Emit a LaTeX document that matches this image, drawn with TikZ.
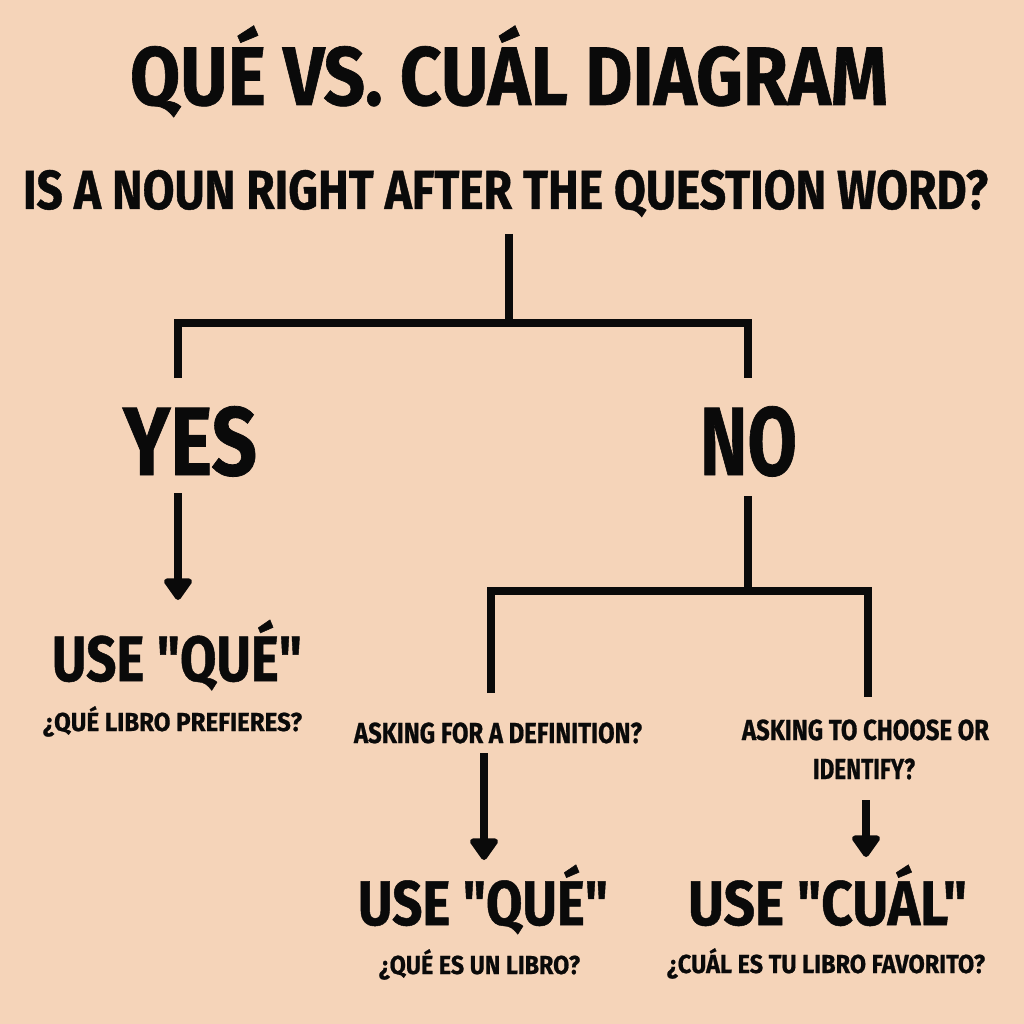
\documentclass[tikz,border=0pt]{standalone}
\usepackage{fontspec}
\usepackage{graphicx}
\setmainfont{Fira Sans}[Ligatures=TeXOff, BoldFeatures={FakeBold=0.8}]
\usetikzlibrary{arrows.meta}
\definecolor{bgc}{HTML}{F5D4B9}
\definecolor{ink}{HTML}{0A0A0A}
\newcommand\fitw[3]{\resizebox{#1}{\height}{\fontsize{#2}{#2}\selectfont\bfseries #3}}
\tikzset{
  txt/.style={anchor=base, inner sep=0pt, outer sep=0pt, text=ink},
  tree/.style={draw=ink, line width=8pt, line cap=butt, line join=miter},
  arr/.style={draw=ink, line width=8pt, -{Triangle[width=32pt,length=24pt,round]}},
}
\begin{document}
\begin{tikzpicture}[x=1pt,y=-1pt]
\fill[bgc] (0,0) rectangle (1024,1024);
\useasboundingbox (0,0) rectangle (1024,1024);

% texts
\node[txt] (title) at (509,105) {\fitw{758pt}{83}{QUÉ VS. CUÁL DIAGRAM}};
\node[txt] (question) at (505.5,209) {\fitw{965pt}{55}{IS A NOUN RIGHT AFTER THE QUESTION WORD?}};
\node[txt] (yes) at (190,475) {\fitw{134pt}{97}{YES}};
\node[txt] (no) at (748.5,475) {\fitw{97pt}{97}{NO}};
\node[txt] (useq1) at (177,681) {\fitw{250pt}{64}{USE "QUÉ"}};
\node[txt] (ex1) at (172.5,731) {\fitw{259pt}{26}{¿QUÉ LIBRO PREFIERES?}};
\node[txt] (def) at (498,743) {\fitw{288pt}{29}{ASKING FOR A DEFINITION?}};
\node[txt] (choose1) at (865.5,740) {\fitw{247pt}{29}{ASKING TO CHOOSE OR}};
\node[txt] (choose2) at (864,779) {\fitw{102pt}{29}{IDENTIFY?}};
\node[txt] (useq2) at (483,925) {\fitw{250pt}{63}{USE "QUÉ"}};
\node[txt] (ex2) at (479.5,974) {\fitw{201pt}{26}{¿QUÉ ES UN LIBRO?}};
\node[txt] (usec) at (827.5,925) {\fitw{279pt}{63}{USE "CUÁL"}};
\node[txt] (ex3) at (826,973) {\fitw{318pt}{26}{¿CUÁL ES TU LIBRO FAVORITO?}};

% connector end points
\coordinate (qb) at (509,234);
\coordinate (j1) at (509,323);
\coordinate (yt) at (178,378);
\coordinate (nt) at (748,378);
\coordinate (yb) at (178,493);
\coordinate (ya) at (178,600);
\coordinate (nb) at (748,496);
\coordinate (j2) at (748,591);
\coordinate (dt) at (491,693);
\coordinate (ct) at (868,697);
\coordinate (db) at (484,753);
\coordinate (da) at (484,860);
\coordinate (cb) at (866,800);
\coordinate (ca) at (866,857);

% tree
\draw[tree] (qb) -- (j1);
\draw[tree] (yt) |- (j1) -| (nt);
\draw[tree] (nb) -- (j2);
\draw[tree] (dt) |- (j2) -| (ct);

% arrows
\draw[arr] (yb) -- (ya);
\draw[arr] (db) -- (da);
\draw[arr] (cb) -- (ca);
\end{tikzpicture}
\end{document}
